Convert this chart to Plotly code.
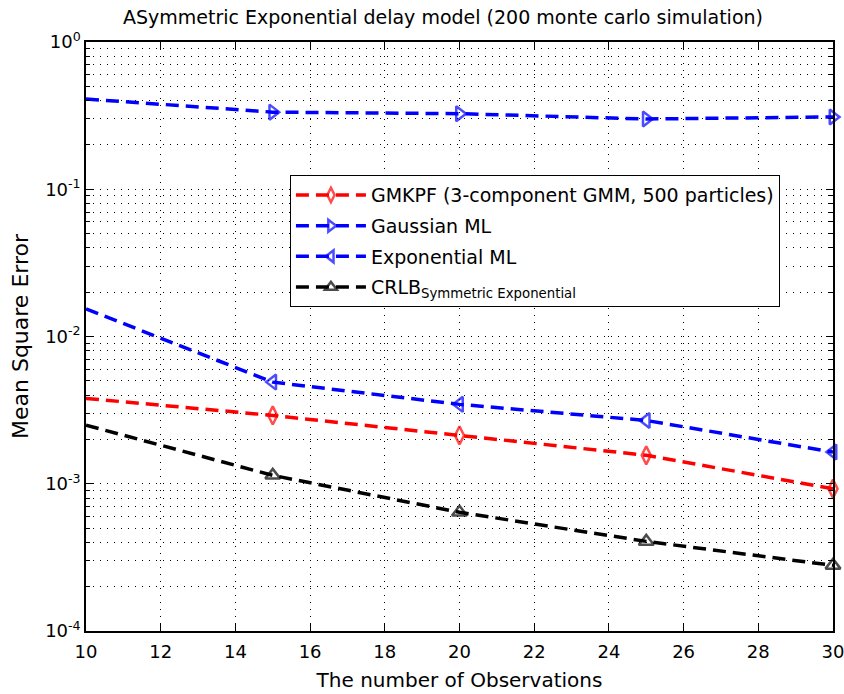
import plotly.graph_objects as go

# Number of observations
obs = [10, 15, 20, 25, 30]

# Mean square error per estimator
gmkpf = [0.0038, 0.00291, 0.00213, 0.00156, 0.000925]
gauss_ml = [0.41, 0.334, 0.326, 0.30, 0.31]
expo_ml = [0.0154, 0.0049, 0.00346, 0.00269, 0.00164]
crlb = [0.0025, 0.00114, 0.00064, 0.000406, 0.000279]

names = [
    "GMKPF (3-component GMM, 500 particles)",
    "Gaussian ML",
    "Exponential ML",
    "CRLB<sub>Symmetric Exponential</sub>",
]

# y-axis decade labels
y_tickvals = [1e-4, 1e-3, 1e-2, 1e-1, 1]
y_ticktext = ["10<sup>-4</sup>", "10<sup>-3</sup>", "10<sup>-2</sup>",
              "10<sup>-1</sup>", "10<sup>0</sup>"]
y_minor = [m * 10 ** e for e in range(-4, 0) for m in range(2, 10)]

FONT = "DejaVu Sans, Liberation Sans, Arial, sans-serif"

series = [
    (gmkpf, names[0], "#ff0000", "diamond-tall-open"),
    (gauss_ml, names[1], "#0000ff", "triangle-right-open"),
    (expo_ml, names[2], "#0000ff", "triangle-left-open"),
    (crlb, names[3], "#000000", "triangle-up-open"),
]

fig = go.Figure()
for i, (vals, name, color, sym) in enumerate(series):
    # no marker on the first sample
    sizes = [0] + [13] * (len(vals) - 1)
    fig.add_trace(go.Scatter(
        x=obs, y=vals, name=name, mode="lines+markers",
        legendgroup=f"g{i}", cliponaxis=False,
        line=dict(color=color, width=3.5, dash="13px,7px"),
        marker=dict(symbol=sym, size=sizes, color=color,
                    line=dict(color=color, width=2.5)),
    ))

grid_dash = "1px,6px"

fig.update_layout(
    width=844, height=694,
    margin=dict(l=86, r=11, t=42, b=63),
    plot_bgcolor="white", paper_bgcolor="white",
    font=dict(family=FONT, size=18, color="black"),
    title=dict(
        text="ASymmetric Exponential delay model (200 monte carlo simulation)",
        x=443 / 844, xanchor="center", y=1 - 17 / 694, yanchor="middle",
        yref="container", font=dict(family=FONT, size=19, color="black"),
    ),
    showlegend=True,
    legend=dict(
        x=0.273, y=0.774, xanchor="left", yanchor="top",
        bgcolor="white", bordercolor="black", borderwidth=1,
        font=dict(family=FONT, size=19, color="black"),
        tracegroupgap=3, itemwidth=70,
    ),
)

fig.update_xaxes(
    range=[10, 30], dtick=2, tick0=10, automargin=False,
    ticklabeloverflow="allow",
    showline=True, linecolor="black", linewidth=1.5, mirror="ticks",
    ticks="inside", ticklen=7, tickcolor="black",
    showgrid=True, gridcolor="black", gridwidth=1, griddash=grid_dash,
    zeroline=False, ticklabelstandoff=4,
    title=dict(text="The number of Observations", standoff=12,
               font=dict(family=FONT, size=20, color="black")),
    tickfont=dict(family=FONT, size=18, color="black"),
)

fig.update_yaxes(
    type="log", range=[-4, 0], automargin=False,
    ticklabeloverflow="allow",
    tickvals=y_tickvals, ticktext=y_ticktext,
    showline=True, linecolor="black", linewidth=1.5, mirror="ticks",
    ticks="inside", ticklen=7, tickcolor="black",
    showgrid=True, gridcolor="black", gridwidth=1, griddash=grid_dash,
    minor=dict(tickvals=y_minor, ticks="inside", ticklen=4, tickcolor="black",
               showgrid=True, gridcolor="black", gridwidth=1, griddash=grid_dash),
    zeroline=False,
    title=dict(text="Mean Square Error", standoff=10,
               font=dict(family=FONT, size=22, color="black")),
    tickfont=dict(family=FONT, size=18, color="black"),
)

fig.write_html("out.html")
